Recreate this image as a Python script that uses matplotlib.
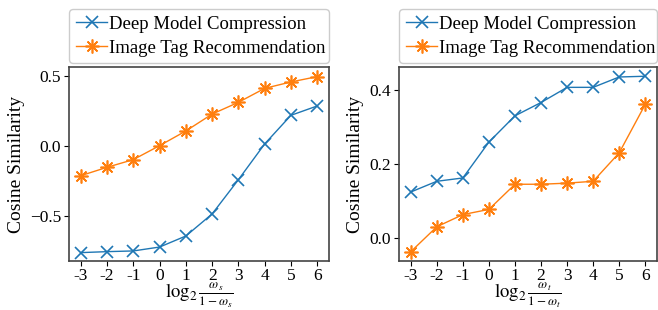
import matplotlib
matplotlib.use("Agg")
import matplotlib.pyplot as plt

x_vals = [-3, -2, -1, 0, 1, 2, 3, 4, 5, 6]
x_labels = ["-3", "-2", "-1", "0", "1", "2", "3", "4", "5", "6"]

left_dmc = [-0.761, -0.754, -0.749, -0.721, -0.642, -0.484, -0.239, 0.017, 0.222, 0.289]
left_itr = [-0.210, -0.150, -0.095, 0.005, 0.110, 0.231, 0.315, 0.415, 0.461, 0.499]

right_dmc = [0.124, 0.153, 0.162, 0.259, 0.330, 0.366, 0.407, 0.407, 0.435, 0.437]
right_itr = [-0.0375, 0.030, 0.063, 0.077, 0.145, 0.145, 0.148, 0.153, 0.230, 0.361]

series_names = ["Deep Model Compression", "Image Tag Recommendation"]

plt.rcParams["font.family"] = ["Liberation Serif", "DejaVu Serif"]
plt.rcParams["mathtext.fontset"] = "stix"

fig = plt.figure(figsize=(6.58, 3.10), dpi=100)
ax1 = fig.add_axes([69/658, 49/310, 260/658, 194/310])
ax2 = fig.add_axes([399/658, 49/310, 258/658, 194/310])

for ax, d1, d2, xl, yl, yt in [
    (ax1, left_dmc, left_itr, r"$\log_2\frac{\omega_s}{1-\omega_s}$", (-0.821, 0.568), [-0.5, 0.0, 0.5]),
    (ax2, right_dmc, right_itr, r"$\log_2\frac{\omega_t}{1-\omega_t}$", (-0.0625, 0.462), [0.0, 0.2, 0.4]),
]:
    ax.plot(x_vals, d1, color="#1f77b4", marker="x", markersize=8, linewidth=1.0,
            markeredgewidth=1.2, label=series_names[0])
    ax.plot(x_vals, d2, color="#ff7f0e", marker=(8, 2, 0), markersize=10, linewidth=1.0,
            markeredgewidth=1.2, label=series_names[1])
    ax.set_xlim(-3.45, 6.45)
    ax.set_ylim(*yl)
    ax.set_yticks(yt)
    ax.set_yticklabels([f"{v:.1f}".replace("-", "\u2212") for v in yt])
    ax.set_xticks(x_vals)
    ax.set_xticklabels(x_labels)
    ax.tick_params(labelsize=12.5, length=3.5, width=0.8, pad=2)
    ax.tick_params(axis="x", pad=1.5)
    ax.set_ylabel("Cosine Similarity", fontsize=14, labelpad=4)
    ax.set_xlabel(xl, fontsize=13.5, labelpad=-2.5)
    for s in ax.spines.values():
        s.set_color("#444444")
        s.set_linewidth(1.2)
    ax.legend(loc="lower left", bbox_to_anchor=(0, 1.02, 1, 0.3), mode="expand",
              fontsize=13.5, borderaxespad=0, handlelength=1.7, handletextpad=0.1,
              labelspacing=0.35, borderpad=0.35, framealpha=1, edgecolor="#cccccc")

fig.savefig("out.png", dpi=100)
